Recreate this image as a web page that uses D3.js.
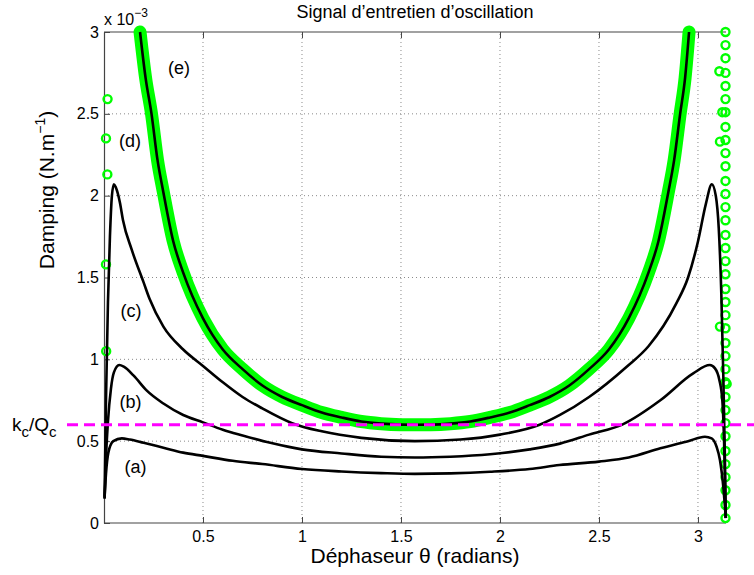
<!DOCTYPE html>
<html><head><meta charset="utf-8">
<script src="https://cdn.jsdelivr.net/npm/d3@7"></script>
<style>
body{margin:0;background:#fff}
text{font-family:"Liberation Sans",Arial,Helvetica,sans-serif;fill:#000}
</style>
</head><body>
<svg id="chart" width="754" height="575"></svg>
<script>
// ---- data (damping in units of 1e-3 N/m, phase in radians) ----
const xTicks = [0.5, 1, 1.5, 2, 2.5, 3];
const yTicks = [0, 0.5, 1, 1.5, 2, 2.5, 3];
const kcQc = 0.6;

const curveA = [[0.003,0.16],[0.01,0.30],[0.022,0.43],[0.047,0.50],[0.09,0.517],[0.13,0.51],[0.2,0.49],[0.3,0.46],[0.4,0.43],[0.5,0.41],[0.65,0.38],[0.8,0.36],[1.0,0.33],[1.2,0.315],[1.4,0.305],[1.57,0.30],[1.75,0.303],[1.95,0.313],[2.15,0.33],[2.3,0.354],[2.5,0.375],[2.65,0.40],[2.81,0.456],[2.95,0.50],[3.035,0.527],[3.069,0.517],[3.094,0.466],[3.111,0.385],[3.128,0.22],[3.1405,0.03]];
const curveB = [[0.003,0.15],[0.01,0.40],[0.02,0.62],[0.035,0.82],[0.05,0.92],[0.077,0.965],[0.1,0.955],[0.15,0.90],[0.215,0.81],[0.3,0.73],[0.4,0.66],[0.5,0.615],[0.6,0.57],[0.7,0.535],[0.84,0.49],[1.0,0.45],[1.2,0.425],[1.4,0.405],[1.57,0.40],[1.75,0.405],[1.95,0.42],[2.15,0.45],[2.303,0.485],[2.45,0.54],[2.62,0.603],[2.81,0.75],[2.976,0.914],[3.06,0.965],[3.086,0.945],[3.108,0.874],[3.123,0.75],[3.133,0.45],[3.1405,0.03]];
const curveC = [[0.003,0.15],[0.01,0.75],[0.02,1.35],[0.03,1.75],[0.04,2.0],[0.05,2.07],[0.06,2.05],[0.08,1.96],[0.096,1.85],[0.14,1.67],[0.2,1.47],[0.23,1.37],[0.3,1.20],[0.4,1.06],[0.5,0.96],[0.6,0.86],[0.7,0.77],[0.8,0.70],[0.95,0.61],[1.1,0.56],[1.3,0.52],[1.57,0.50],[1.8,0.51],[2.0,0.54],[2.2,0.60],[2.303,0.66],[2.45,0.77],[2.64,0.955],[2.75,1.08],[2.89,1.34],[2.95,1.50],[3.0,1.72],[3.04,1.95],[3.07,2.07],[3.09,2.0],[3.105,1.8],[3.118,1.4],[3.128,0.9],[3.136,0.4],[3.1405,0.03]];
const curveE = [[0.182,3.0],[0.21,2.72],[0.24,2.5],[0.27,2.22],[0.3,2.02],[0.35,1.72],[0.4,1.53],[0.5,1.25],[0.6,1.06],[0.7,0.94],[0.8,0.84],[0.9,0.77],[1.0,0.72],[1.1,0.675],[1.2,0.645],[1.3,0.62],[1.4,0.607],[1.5,0.601],[1.57,0.60],[1.65,0.601],[1.75,0.607],[1.85,0.62],[1.95,0.645],[2.05,0.675],[2.15,0.72],[2.25,0.77],[2.35,0.84],[2.45,0.94],[2.55,1.06],[2.65,1.25],[2.75,1.53],[2.8,1.72],[2.85,2.02],[2.88,2.22],[2.91,2.5],[2.935,2.72],[2.955,3.0]];

// green circle markers of series (d)
const dLeft = [[0.018,2.59],[0.01,2.35],[0.017,2.13],[0.01,1.58],[0.011,1.05]];
const dColumnTheta = 3.139;
const dColumn = [3.0,2.92,2.84,2.75,2.67,2.59,2.51,2.42,2.34,2.26,2.18,2.09,2.01,1.93,1.85,1.76,1.68,1.60,1.52,1.43,1.35,1.27,1.19,1.10,1.02,0.94,0.86,0.77,0.69,0.61,0.53,0.44,0.36,0.28,0.20,0.11,0.03];
const dExtra = [[3.108,2.76],[3.123,2.51],[3.111,2.33],[3.111,1.20],[3.145,0.85]];

const curveNames = ["(a)","(b)","(c)","(d)","(e)"];
const curveNameTheta = [0.159,0.134,0.136,0.131,0.379];
const curveNameValue = [0.342,0.741,1.295,2.334,2.78];

// ---- layout ----
const svg = d3.select("#chart");
const L = 104, R = 726, T = 32, B = 523;
const x = d3.scaleLinear().domain([0, Math.PI]).range([L, R]);
const y = d3.scaleLinear().domain([0, 3]).range([B, T]);
const axisCol = "#444";

// grid
const grid = svg.append("g").attr("stroke","#8a8a8a").attr("stroke-width",1).attr("stroke-dasharray","1,3");
grid.selectAll("line.gx").data(xTicks).join("line")
  .attr("x1",d=>x(d)).attr("x2",d=>x(d)).attr("y1",B).attr("y2",T);
grid.selectAll("line.gy").data(yTicks.filter(d=>d>0 && d<3)).join("line")
  .attr("x1",L).attr("x2",R).attr("y1",d=>y(d)).attr("y2",d=>y(d));

// axes
const fs = 16;
const xAxis = d3.axisBottom(x).tickValues(xTicks).tickSizeInner(-6).tickSizeOuter(0).tickPadding(8).tickFormat(d3.format("~g"));
const gx = svg.append("g").attr("transform",`translate(0,${B})`).call(xAxis);
const xTop = d3.axisTop(x).tickValues(xTicks).tickSizeInner(-6).tickSizeOuter(0).tickFormat("");
const gxt = svg.append("g").attr("transform",`translate(0,${T})`).call(xTop);
const yAxis = d3.axisLeft(y).tickValues(yTicks).tickSizeInner(-6).tickSizeOuter(0).tickPadding(5).tickFormat(d3.format("~g"));
const gy = svg.append("g").attr("transform",`translate(${L},0)`).call(yAxis);
[gx,gxt,gy].forEach(g=>{
  g.select(".domain").attr("stroke",axisCol).attr("stroke-width",1.2);
  g.selectAll(".tick line").attr("stroke",axisCol);
  g.selectAll(".tick text").attr("font-size",fs).attr("font-family","Liberation Sans, Arial, sans-serif").attr("fill","#000");
});
gx.select(".domain").attr("d",`M${L},0H${R}`);
gxt.select(".domain").attr("d",`M${L},0H${R}`);

// exponent label
const ex = svg.append("text").attr("x",L).attr("y",25).attr("font-size",16);
ex.append("tspan").text("x 10");
ex.append("tspan").attr("dy",-8).attr("font-size",12).text("\u22123");

// title
svg.append("text").attr("x",(L+R)/2).attr("y",18).attr("text-anchor","middle").attr("font-size",18)
  .text("Signal d\u2019entretien d\u2019oscillation");

// x label
svg.append("text").attr("x",(L+R)/2).attr("y",563).attr("text-anchor","middle").attr("font-size",21)
  .text("D\u00e9phaseur \u03b8 (radians)");

// y label
const yl = svg.append("text").attr("transform","translate(54,190) rotate(-90)").attr("text-anchor","middle").attr("font-size",21);
yl.append("tspan").text("Damping (N.m");
yl.append("tspan").attr("dy",-9).attr("font-size",14).text("\u22121");
yl.append("tspan").attr("dy",9).text(")");

// curves
const line = d3.line().x(d=>x(d[0])).y(d=>y(d[1])).curve(d3.curveMonotoneX);

// green markers band along (e)
svg.append("path").datum(curveE).attr("d",line).attr("fill","none")
  .attr("stroke","#00ff00").attr("stroke-width",13).attr("stroke-linecap","round").attr("stroke-linejoin","round");

// series (d) circles
const allD = dLeft.concat(dColumn.map(v=>[dColumnTheta,v])).concat(dExtra);
svg.append("g").selectAll("circle").data(allD).join("circle")
  .attr("cx",d=>x(d[0])).attr("cy",d=>y(d[1])).attr("r",4)
  .attr("fill","none").attr("stroke","#00ff00").attr("stroke-width",2.4);

// black curves
svg.append("g").selectAll("path").data([curveA,curveB,curveC,curveE]).join("path")
  .attr("d",line).attr("fill","none").attr("stroke","#000").attr("stroke-width",2.6)
  .attr("stroke-linejoin","round");

// kc/Qc threshold
svg.append("line").attr("x1",67).attr("x2",754).attr("y1",y(kcQc)).attr("y2",y(kcQc))
  .attr("stroke","#ff00ff").attr("stroke-width",3).attr("stroke-dasharray","11,6");
const kq = svg.append("text").attr("x",12).attr("y",y(kcQc)+6).attr("font-size",19);
kq.append("tspan").text("k");
kq.append("tspan").attr("dy",6).attr("font-size",15).text("c");
kq.append("tspan").attr("dy",-6).text("/Q");
kq.append("tspan").attr("dy",6).attr("font-size",15).text("c");

// curve labels
svg.append("g").selectAll("text").data(curveNames).join("text")
  .attr("x",(d,i)=>x(curveNameTheta[i])).attr("y",(d,i)=>y(curveNameValue[i]))
  .attr("text-anchor","middle").attr("dominant-baseline","central").attr("font-size",18)
  .text(d=>d);
</script>
</body></html>
